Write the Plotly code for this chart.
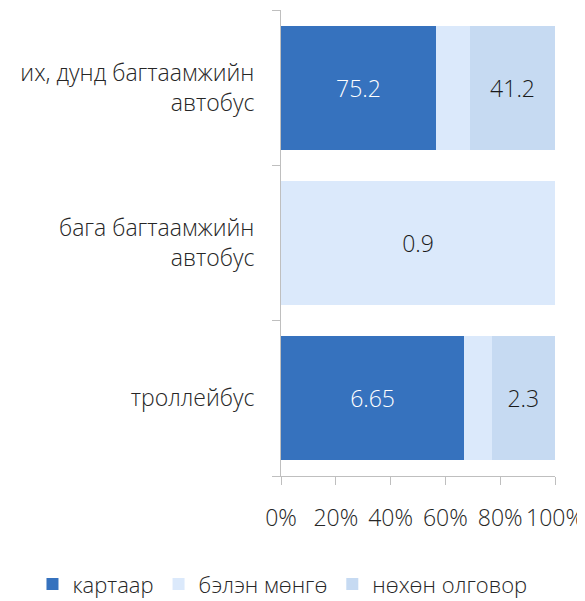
import plotly.graph_objects as go

categories = ["их, дунд багтаамжийн<br>автобус", "бага багтаамжийн<br>автобус", "троллейбус"]
series_names = ["картаар", "бэлэн мөнгө", "нөхөн олговор"]
kartaar = [75.2, 0, 6.65]
belen = [16.6, 0.9, 1.0]
nokhon = [41.2, 0, 2.3]
kartaar_labels = ["75.2", "", "6.65"]
belen_labels = ["", "0.9", ""]
nokhon_labels = ["41.2", "", "2.3"]
tick_vals = [0, 20, 40, 60, 80, 100]
tick_text = ["0%", "20%", "40%", "60%", "80%", "100%"]

colors = ["#3672BE", "#DBE9FB", "#C6DAF2"]
text_colors = ["white", "#1a1a1a", "#1a1a1a"]
font_family = "Open Sans, Noto Sans, sans-serif"
fs = 23

fig = go.Figure()
for name, vals, labels, c, tc in zip(series_names, [kartaar, belen, nokhon],
                                     [kartaar_labels, belen_labels, nokhon_labels],
                                     colors, text_colors):
    fig.add_trace(go.Bar(
        y=categories, x=vals, name=name, orientation="h",
        marker=dict(color=c, line=dict(width=0)),
        text=labels, textposition="inside", insidetextanchor="middle",
        textfont=dict(color=tc, size=fs, family=font_family, weight=300),
        hoverinfo="skip",
    ))

# page body has an 8px margin, so the figure is 8px smaller and offset
fig.update_layout(
    barmode="stack", barnorm="percent", bargap=0.2,
    width=577, height=593,
    margin=dict(l=273, r=30, t=2, b=125, autoexpand=False),
    paper_bgcolor="white", plot_bgcolor="white",
    font=dict(family=font_family, size=fs, color="#262626", weight=300),
    showlegend=True,
    legend=dict(orientation="h", x=-0.907, xanchor="left",
                y=-0.232, yanchor="middle",
                font=dict(size=22, family=font_family, color="#262626", weight=300),
                itemwidth=30, traceorder="normal"),
    uniformtext=dict(mode="show", minsize=10),
)
fig.update_xaxes(range=[0, 100], tickvals=tick_vals, ticktext=tick_text,
                 showgrid=False, zeroline=False, showline=True,
                 linecolor="#BFBFBF", linewidth=1, ticks="outside",
                 ticklen=8, tickcolor="#BFBFBF", automargin=False,
                 tickfont=dict(size=fs, family=font_family, color="#262626", weight=300),
                 ticklabelstandoff=13, fixedrange=True)
fig.update_yaxes(categoryorder="array", categoryarray=categories[::-1],
                 showgrid=False, zeroline=False, showline=True,
                 linecolor="#BFBFBF", linewidth=1, ticks="outside",
                 tickson="boundaries", ticklen=8, tickcolor="#BFBFBF", automargin=False,
                 tickfont=dict(size=fs, family=font_family, color="#262626", weight=300),
                 ticklabelstandoff=21, fixedrange=True)

fig.write_html("out.html")
